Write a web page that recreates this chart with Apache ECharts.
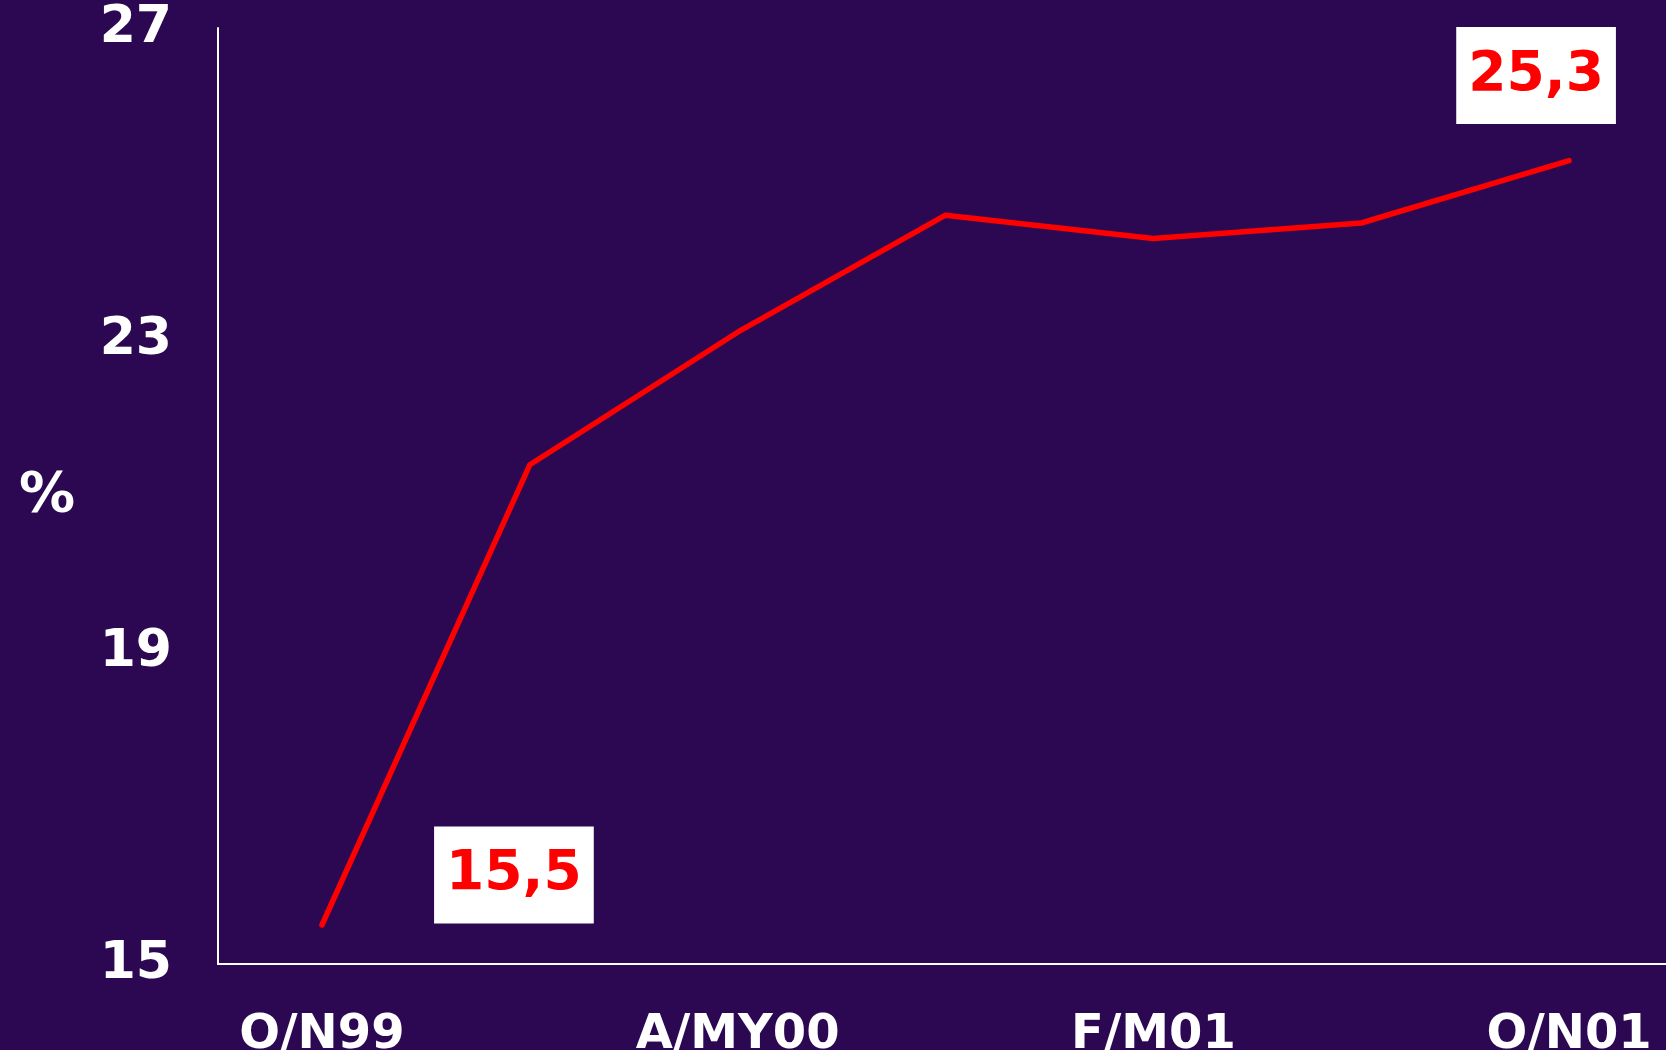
<!DOCTYPE html>
<html>
<head>
<meta charset="utf-8">
<style>html,body{margin:0;padding:0;background:#2b0851;}#c{width:1666px;height:1050px;}</style>
<script src="https://cdn.jsdelivr.net/npm/echarts@6/dist/echarts.min.js"></script>
</head>
<body>
<div id="c"></div>
<script>
const categories = ['O/N99', 'E/F00', 'A/MY00', 'S/O00', 'F/M01', 'J/J01', 'O/N01'];
const values = [15.5, 21.4, 23.1, 24.6, 24.3, 24.5, 25.3];
const labelTexts = ['15,5', '', '', '', '', '', '25,3'];
const labelOffsets = [[192, -50], null, null, null, null, null, [-33, -85]];
const yTicks = { min: 15, max: 27, interval: 4 };

const chart = echarts.init(document.getElementById('c'));
const data = values.map((v, i) => {
  const item = { value: v };
  if (labelTexts[i]) {
    item.label = {
      show: true, position: 'inside', offset: labelOffsets[i],
      formatter: labelTexts[i],
      color: '#ff0000', fontFamily: 'DejaVu Sans', fontWeight: 'bold', fontSize: 55,
      backgroundColor: '#ffffff', padding: [21, 12, 21, 12]
    };
  }
  return item;
});
chart.setOption({
  backgroundColor: '#2b0851',
  animation: false,
  grid: { left: 218, right: -7, top: 28, bottom: 86, containLabel: false, outerBoundsMode: 'none' },
  xAxis: {
    type: 'category', data: categories, boundaryGap: true,
    axisLine: { show: true, lineStyle: { color: '#ffffff', width: 2 } },
    axisTick: { show: false },
    axisLabel: { interval: 1, color: '#ffffff', fontFamily: 'DejaVu Sans', fontWeight: 'bold', fontSize: 48, margin: 48 },
    splitLine: { show: false }
  },
  yAxis: {
    type: 'value', min: yTicks.min, max: yTicks.max, interval: yTicks.interval,
    name: '%', nameLocation: 'middle', nameRotate: 0, nameGap: 143,
    nameTextStyle: { color: '#ffffff', fontFamily: 'DejaVu Sans', fontWeight: 'bold', fontSize: 56 },
    axisLine: { show: true, lineStyle: { color: '#ffffff', width: 2 } },
    axisTick: { show: false },
    axisLabel: { color: '#ffffff', fontFamily: 'DejaVu Sans', fontWeight: 'bold', fontSize: 52, margin: 46, padding: [8, 0, 0, 0] },
    splitLine: { show: false }
  },
  series: [{
    type: 'line', data: data,
    symbol: 'circle', symbolSize: 1, showSymbol: true,
    itemStyle: { color: '#ff0000' },
    lineStyle: { color: '#ff0000', width: 5.5, cap: 'round', join: 'round' },
    label: { show: false },
    emphasis: { disabled: true }
  }]
});
</script>
</body>
</html>
